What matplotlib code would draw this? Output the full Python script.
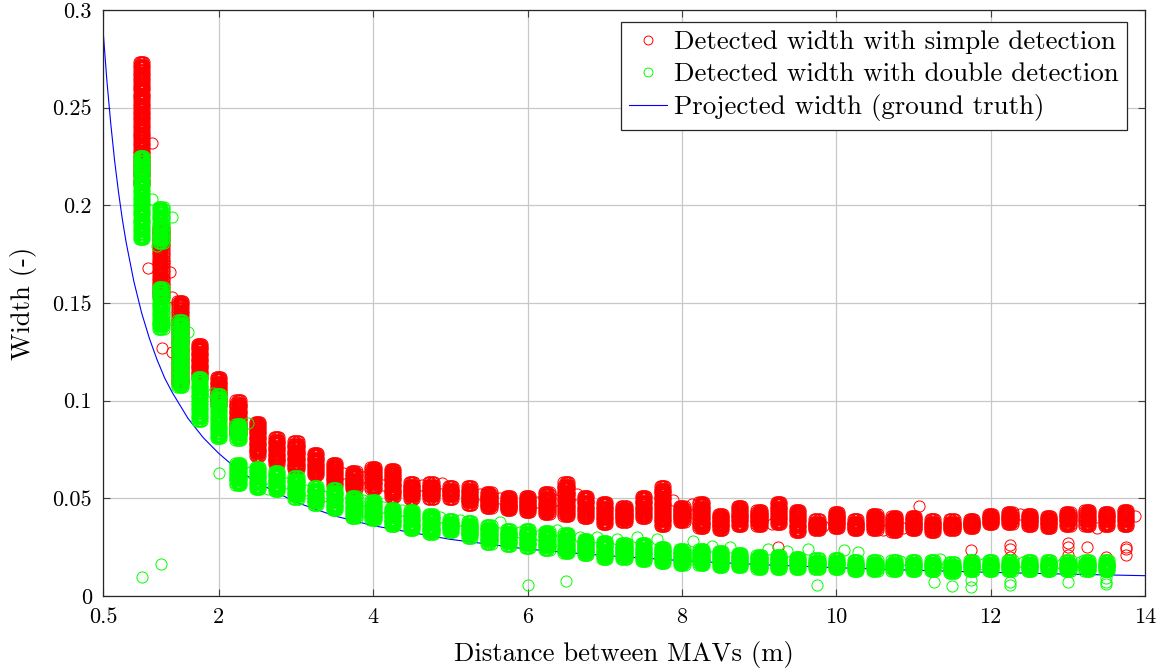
import matplotlib as mpl
mpl.use('Agg')
import matplotlib.pyplot as plt
import numpy as np

plt.rcParams['font.family'] = 'cmr10'
plt.rcParams['mathtext.fontset'] = 'cm'
plt.rcParams['axes.formatter.use_mathtext'] = True

# distances (m) at which the detections were taken
simple_dist = [1.0, 1.25, 1.5, 1.75, 2.0, 2.25, 2.5, 2.75, 3.0, 3.25, 3.5, 3.75,
               4.0, 4.25, 4.5, 4.75, 5.0, 5.25, 5.5, 5.75, 6.0, 6.25, 6.5, 6.75,
               7.0, 7.25, 7.5, 7.75, 8.0, 8.25, 8.5, 8.75, 9.0, 9.25, 9.5, 9.75,
               10.0, 10.25, 10.5, 10.75, 11.0, 11.25, 11.5, 11.75, 12.0, 12.25,
               12.5, 12.75, 13.0, 13.25, 13.5, 13.75]
double_dist = simple_dist[:-1]

# detected widths per distance, simple detection
simple_widths = [
    [0.272, 0.268, 0.264, 0.260, 0.256, 0.252, 0.248, 0.244, 0.240, 0.236, 0.232, 0.228, 0.224, 0.220, 0.216, 0.212],
    [0.187, 0.183, 0.179, 0.175, 0.171, 0.167, 0.163, 0.159, 0.155],
    [0.150, 0.146, 0.142, 0.138, 0.134, 0.130, 0.126, 0.122, 0.118, 0.114, 0.110],
    [0.128, 0.125, 0.122, 0.119, 0.116, 0.113],
    [0.111, 0.108, 0.105, 0.102, 0.099],
    [0.099, 0.096, 0.093, 0.090, 0.087, 0.084],
    [0.088, 0.085, 0.082, 0.079, 0.076, 0.073],
    [0.080, 0.077, 0.074, 0.071, 0.069],
    [0.078, 0.075, 0.072, 0.069, 0.066],
    [0.072, 0.069, 0.066, 0.063],
    [0.067, 0.064, 0.061, 0.058],
    [0.063, 0.060, 0.058, 0.056],
    [0.065, 0.062, 0.059, 0.056],
    [0.064, 0.061, 0.058, 0.055, 0.052],
    [0.057, 0.055, 0.053, 0.051],
    [0.057, 0.055, 0.053, 0.051],
    [0.055, 0.053, 0.051],
    [0.055, 0.052, 0.050, 0.048],
    [0.052, 0.050, 0.048, 0.046],
    [0.050, 0.048, 0.046, 0.045],
    [0.050, 0.048, 0.046, 0.044],
    [0.052, 0.049, 0.046, 0.043],
    [0.057, 0.054, 0.051, 0.048, 0.045, 0.042],
    [0.050, 0.047, 0.044, 0.041],
    [0.047, 0.044, 0.041, 0.038],
    [0.045, 0.043, 0.041, 0.039],
    [0.050, 0.047, 0.044, 0.041],
    [0.055, 0.052, 0.049, 0.046, 0.043, 0.040, 0.037],
    [0.045, 0.043, 0.041, 0.039],
    [0.047, 0.044, 0.041, 0.038, 0.036],
    [0.041, 0.039, 0.037, 0.035],
    [0.045, 0.042, 0.040, 0.037],
    [0.043, 0.041, 0.039, 0.037],
    [0.047, 0.044, 0.041, 0.038],
    [0.043, 0.040, 0.037, 0.034],
    [0.038, 0.036, 0.035],
    [0.042, 0.040, 0.038, 0.036],
    [0.038, 0.036, 0.035],
    [0.041, 0.039, 0.037, 0.035],
    [0.040, 0.038, 0.036, 0.034],
    [0.040, 0.038, 0.036, 0.035],
    [0.038, 0.036, 0.034],
    [0.038, 0.036, 0.035],
    [0.038, 0.037, 0.036],
    [0.041, 0.039, 0.038],
    [0.042, 0.040, 0.038],
    [0.041, 0.039, 0.037],
    [0.040, 0.038, 0.036],
    [0.042, 0.040, 0.037],
    [0.043, 0.040, 0.037],
    [0.042, 0.040, 0.037],
    [0.043, 0.040, 0.037],
]

# detected widths per distance, double detection
double_widths = [
    [0.224, 0.220, 0.216, 0.212, 0.208, 0.204, 0.200, 0.196, 0.192, 0.188, 0.184],
    [0.198, 0.194, 0.190, 0.186, 0.182, 0.157, 0.153, 0.149, 0.145, 0.141, 0.138],
    [0.140, 0.136, 0.132, 0.128, 0.124, 0.120, 0.116, 0.112, 0.108],
    [0.111, 0.107, 0.103, 0.099, 0.095, 0.091],
    [0.102, 0.098, 0.094, 0.090, 0.086, 0.082],
    [0.087, 0.084, 0.081, 0.067, 0.064, 0.061, 0.058],
    [0.065, 0.062, 0.059, 0.056],
    [0.063, 0.060, 0.057, 0.055],
    [0.060, 0.057, 0.054, 0.051],
    [0.055, 0.053, 0.050, 0.048],
    [0.054, 0.051, 0.048, 0.045],
    [0.050, 0.047, 0.044, 0.041],
    [0.048, 0.045, 0.042, 0.040],
    [0.044, 0.042, 0.039, 0.037],
    [0.043, 0.040, 0.037, 0.035],
    [0.041, 0.038, 0.035, 0.033],
    [0.038, 0.036, 0.034],
    [0.037, 0.035, 0.033, 0.031],
    [0.035, 0.033, 0.030, 0.028],
    [0.033, 0.031, 0.029, 0.027],
    [0.033, 0.031, 0.028, 0.026],
    [0.032, 0.030, 0.027, 0.025],
    [0.031, 0.028, 0.025, 0.023],
    [0.028, 0.026, 0.024, 0.022],
    [0.027, 0.025, 0.022, 0.020],
    [0.026, 0.024, 0.022, 0.020],
    [0.026, 0.023, 0.021, 0.019],
    [0.024, 0.022, 0.020, 0.018],
    [0.023, 0.021, 0.019, 0.017],
    [0.023, 0.021, 0.019, 0.017],
    [0.022, 0.020, 0.018, 0.016],
    [0.021, 0.019, 0.017, 0.016],
    [0.020, 0.018, 0.016, 0.015],
    [0.020, 0.018, 0.016, 0.015],
    [0.019, 0.017, 0.015],
    [0.018, 0.0165, 0.015],
    [0.018, 0.0165, 0.015],
    [0.017, 0.0155, 0.014],
    [0.017, 0.0155, 0.014],
    [0.017, 0.0155, 0.014],
    [0.017, 0.0155, 0.014],
    [0.017, 0.0155, 0.014],
    [0.016, 0.0145, 0.013],
    [0.017, 0.0155, 0.014],
    [0.017, 0.0155, 0.014],
    [0.017, 0.0155, 0.014],
    [0.017, 0.0155, 0.014],
    [0.017, 0.0155, 0.014],
    [0.017, 0.0155, 0.014],
    [0.017, 0.0155, 0.014],
    [0.017, 0.0155, 0.014],
]

# spread of repeated measurements around each listed value
dist_spread = [-0.035, -0.02, -0.007, 0.007, 0.02, 0.035]
width_spread = [-0.0012, 0.0, 0.0012]

# isolated detections
simple_extra_x = [1.13, 1.08, 1.37, 1.39, 1.26, 1.40, 3.61, 3.87, 4.13, 4.63, 4.89, 5.38,
                  5.64, 6.13, 6.36, 6.64, 7.88, 8.13, 9.17, 9.83, 9.25, 10.6, 10.86,
                  11.07, 12.38, 13.38, 13.87, 11.75, 12.25, 12.25, 12.25, 13.0, 13.0,
                  13.0, 13.25, 13.5, 13.75, 13.75, 13.75]
simple_extra_y = [0.232, 0.168, 0.166, 0.153, 0.127, 0.125, 0.063, 0.061, 0.057, 0.057,
                  0.058, 0.052, 0.050, 0.048, 0.049, 0.052, 0.049, 0.047, 0.037, 0.036,
                  0.025, 0.034, 0.035, 0.046, 0.042, 0.035, 0.041, 0.0235, 0.026, 0.024,
                  0.020, 0.027, 0.025, 0.021, 0.025, 0.020, 0.025, 0.024, 0.021]
double_extra_x = [1.0, 1.25, 2.0, 6.0, 6.5, 9.75, 11.26, 11.5, 11.75, 11.75, 12.25, 12.25,
                  13.0, 13.5, 13.5, 13.5, 1.14, 1.39, 1.2, 1.6, 1.93, 2.38, 2.4, 2.64,
                  2.88, 3.12, 3.35, 3.87, 4.13, 4.37, 4.87, 5.13, 5.64, 5.9, 6.16, 6.38,
                  6.68, 6.9, 7.16, 7.42, 7.68, 8.14, 8.39, 8.62, 9.12, 9.36, 9.63, 10.1,
                  10.28, 10.83, 11.34, 11.43, 11.9, 12.42, 12.92, 13.16]
double_extra_y = [0.0097, 0.0164, 0.063, 0.0055, 0.0077, 0.0055, 0.007, 0.005, 0.008,
                  0.0045, 0.007, 0.0055, 0.007, 0.009, 0.007, 0.006, 0.203, 0.194, 0.179,
                  0.135, 0.104, 0.0886, 0.0635, 0.055, 0.058, 0.0545, 0.051, 0.049,
                  0.0457, 0.044, 0.0405, 0.039, 0.038, 0.033, 0.031, 0.034, 0.030, 0.030,
                  0.029, 0.030, 0.029, 0.028, 0.0255, 0.025, 0.024, 0.023, 0.024, 0.0235,
                  0.0225, 0.018, 0.019, 0.016, 0.0165, 0.0175, 0.0165, 0.0175]

# projected width (ground truth)
truth_dist = [0.5, 0.55, 0.6, 0.65, 0.7, 0.75, 0.8, 0.9, 1.0, 1.1, 1.2, 1.3, 1.4, 1.6,
              1.8, 2.0, 2.25, 2.5, 3.0, 3.5, 4.0, 5.0, 6.0, 7.0, 8.0, 9.0, 10.0, 11.0,
              12.0, 13.0, 14.0]
truth_width = [0.290, 0.264, 0.242, 0.223, 0.207, 0.193, 0.181, 0.161, 0.145, 0.132,
               0.121, 0.1115, 0.104, 0.091, 0.081, 0.073, 0.0645, 0.058, 0.048, 0.041,
               0.036, 0.029, 0.024, 0.0207, 0.0181, 0.0161, 0.0145, 0.0132, 0.0121,
               0.0112, 0.0104]


def spread_points(dists, widths):
    xs, ys = [], []
    for d, ws in zip(dists, widths):
        for w in ws:
            for ddy in width_spread:
                for ddx in dist_spread:
                    xs.append(d + ddx)
                    ys.append(w + ddy)
    return np.array(xs), np.array(ys)


sx, sy = spread_points(simple_dist, simple_widths)
gx, gy = spread_points(double_dist, double_widths)
sx = np.concatenate([sx, simple_extra_x])
sy = np.concatenate([sy, simple_extra_y])
gx = np.concatenate([gx, double_extra_x])
gy = np.concatenate([gy, double_extra_y])

fig = plt.figure(figsize=(11.69, 6.68), dpi=100)
ax = fig.add_axes([103 / 1169, 1 - 596 / 668, 1042 / 1169, 586 / 668])

mk = dict(linestyle='none', marker='o', markerfacecolor='none',
          markersize=8, markeredgewidth=0.7)
h_gt, = ax.plot(truth_dist, truth_width, color='#0000ff', lw=0.8, zorder=2)
h_s, = ax.plot(sx, sy, markeredgecolor='#ff0000', zorder=3, **mk)
h_d, = ax.plot(gx, gy, markeredgecolor='#00ff00', zorder=4, **mk)

ax.set_xlim(0.5, 14)
ax.set_ylim(0, 0.3)
xt = [0.5, 2, 4, 6, 8, 10, 12, 14]
yt = [0, 0.05, 0.1, 0.15, 0.2, 0.25, 0.3]
ax.set_xticks(xt)
ax.set_xticklabels(['0.5', '2', '4', '6', '8', '10', '12', '14'])
ax.set_yticks(yt)
ax.set_yticklabels(['0', '0.05', '0.1', '0.15', '0.2', '0.25', '0.3'])
ax.grid(True, color='#c8c8c8', lw=0.9)
ax.set_axisbelow(True)
ax.tick_params(direction='in', length=5, width=0.8, color='#404040',
               top=True, right=True, labelsize=16, pad=8)
for sp in ax.spines.values():
    sp.set_color('#262626')
    sp.set_linewidth(0.9)

ax.set_xlabel('Distance between MAVs (m)', fontsize=19.2, labelpad=10)
ax.set_ylabel('Width (-)', fontsize=19.2, labelpad=11)

leg = ax.legend([h_s, h_d, h_gt],
                ['Detected width with simple detection',
                 'Detected width with double detection',
                 'Projected width (ground truth)'],
                loc='upper right', fontsize=19.4, fancybox=False, framealpha=1,
                edgecolor='#262626', borderpad=0.32, labelspacing=0.3,
                handlelength=1.4, handletextpad=0.25, markerscale=0.8,
                borderaxespad=0, bbox_to_anchor=(0.983, 0.98))
leg.get_frame().set_linewidth(0.9)

fig.savefig('out.png', dpi=100)
